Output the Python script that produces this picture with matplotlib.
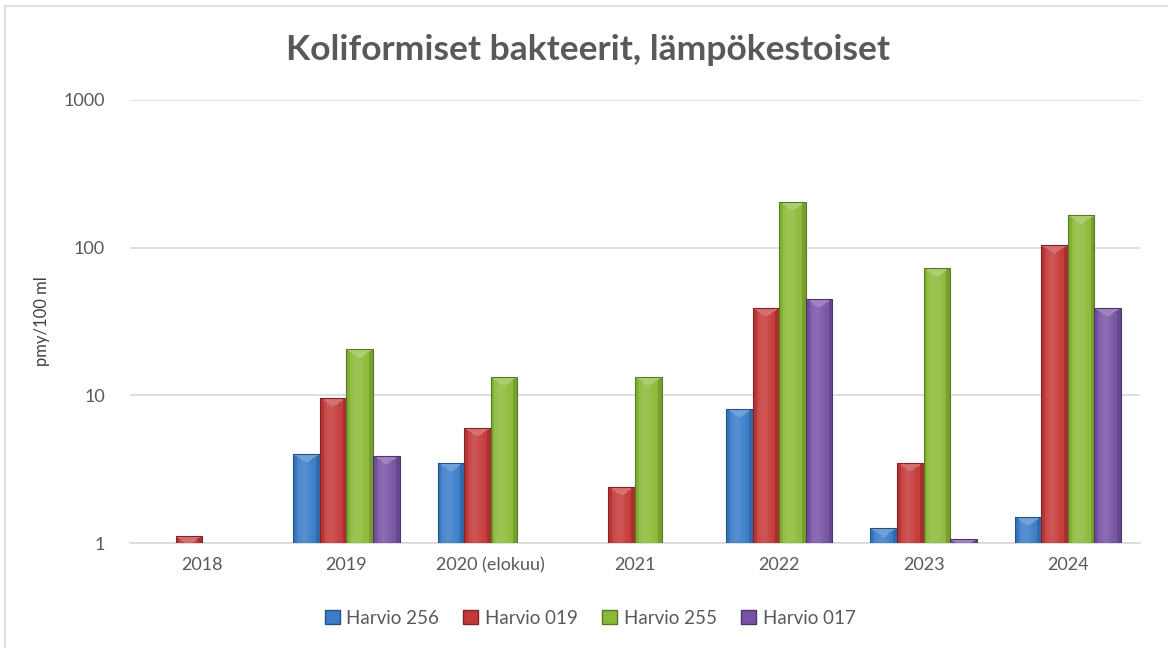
import numpy as np
import matplotlib
matplotlib.use("Agg")
import matplotlib.pyplot as plt
from matplotlib.patches import Patch, Rectangle
from matplotlib.colors import to_rgb

categories = ["2018", "2019", "2020 (elokuu)", "2021", "2022", "2023", "2024"]
series_names = ["Harvio 256", "Harvio 019", "Harvio 255", "Harvio 017"]
harvio_256 = [np.nan, 4.0, 3.5, np.nan, 8.1, 1.26, 1.5]
harvio_019 = [1.11, 9.6, 6.0, 2.4, 39.0, 3.5, 104.0]
harvio_255 = [np.nan, 20.5, 13.3, 13.3, 204.0, 73.0, 166.0]
harvio_017 = [np.nan, 3.9, np.nan, np.nan, 45.0, 1.06, 39.0]
series = [harvio_256, harvio_019, harvio_255, harvio_017]
colors = ["#3A7CC8", "#C53838", "#8CBA38", "#7853A5"]

plt.rcParams['font.family'] = ['Lato', 'DejaVu Sans']
fig = plt.figure(figsize=(11.68, 6.48), dpi=100)
ax = fig.add_axes([130/1168, 1-543/648, 1010/1168, 443/648])

ax.set_yscale('log')
ax.set_ylim(1, 1000)
ax.set_xlim(-0.5, len(categories) - 0.5)

bw = 0.184
nstrip = 14
prof = np.linspace(0, 1, nstrip)
bright = 0.14 * np.exp(-((prof - 0.4) / 0.3) ** 2) - 0.15 * (prof > 0.85) - 0.10 * (prof < 0.08)
x = np.arange(len(categories))
bevel = 10 ** (9 / 147.7)

def shade(c, b):
    c = np.array(to_rgb(c))
    if b >= 0:
        return tuple(c + (1 - c) * b)
    return tuple(c * (1 + b))

for i, (vals, col) in enumerate(zip(series, colors)):
    xc = x + (i - 1.5) * bw
    v = np.array(vals, dtype=float)
    ok = ~np.isnan(v)
    sw = bw / nstrip
    for k in range(nstrip):
        xs = xc[ok] - bw / 2 + (k + 0.5) * sw
        ax.bar(xs, v[ok] - 1, bottom=1, width=sw * 1.02, color=shade(col, bright[k]),
               linewidth=0, zorder=3)
        frac = min(prof[k], 1 - prof[k]) * 2
        h = 1 + (bevel - 1) * frac
        tops = v[ok]
        ax.bar(xs, tops - np.maximum(tops / h, 1), bottom=np.maximum(tops / h, 1), width=sw * 1.02,
               color=shade(col, 0.28 if frac > 0.05 else -0.1), linewidth=0, zorder=4)
    ax.bar(xc[ok], v[ok] - 1, bottom=1, width=bw, fill=False,
           edgecolor=shade(col, -0.35), linewidth=0.8, zorder=5)

ax.set_yticks([1, 10, 100, 1000])
ax.set_yticklabels(["1", "10", "100", "1000"])
ax.minorticks_off()
ax.set_xticks(x)
ax.set_xticklabels(categories)
ax.tick_params(axis='both', length=0, labelsize=13, colors='#595959', pad=10)
ax.tick_params(axis='y', pad=18)
ax.yaxis.grid(True, color='#D9D9D9', linewidth=1.2, zorder=0)
ax.set_axisbelow(True)
for s in ['top', 'right', 'left']:
    ax.spines[s].set_visible(False)
ax.spines['bottom'].set_color('#D9D9D9')
ax.spines['bottom'].set_linewidth(1.2)

ax.set_ylabel("pmy/100 ml", fontsize=12, color='#404040', labelpad=10)
fig.text(588/1168, 1-50/648, "Koliformiset bakteerit, lämpökestoiset", ha='center', va='center',
         fontsize=25.5, fontweight='bold', color='#595959')

handles = [Patch(facecolor=c, edgecolor=shade(c, -0.35)) for c in colors]
fig.legend(handles, series_names, loc='center', bbox_to_anchor=(590/1168, 1-618/648), ncol=4,
           frameon=False, fontsize=13.5, labelcolor='#595959', handlelength=0.8, handleheight=0.8,
           columnspacing=1.3, handletextpad=0.35)

fig.patches.append(Rectangle((5/1168, -0.01), 1.02, 1.0, transform=fig.transFigure,
                             fill=False, edgecolor='#D9D9D9', linewidth=1.2))
fig.savefig("out.png", dpi=100)
